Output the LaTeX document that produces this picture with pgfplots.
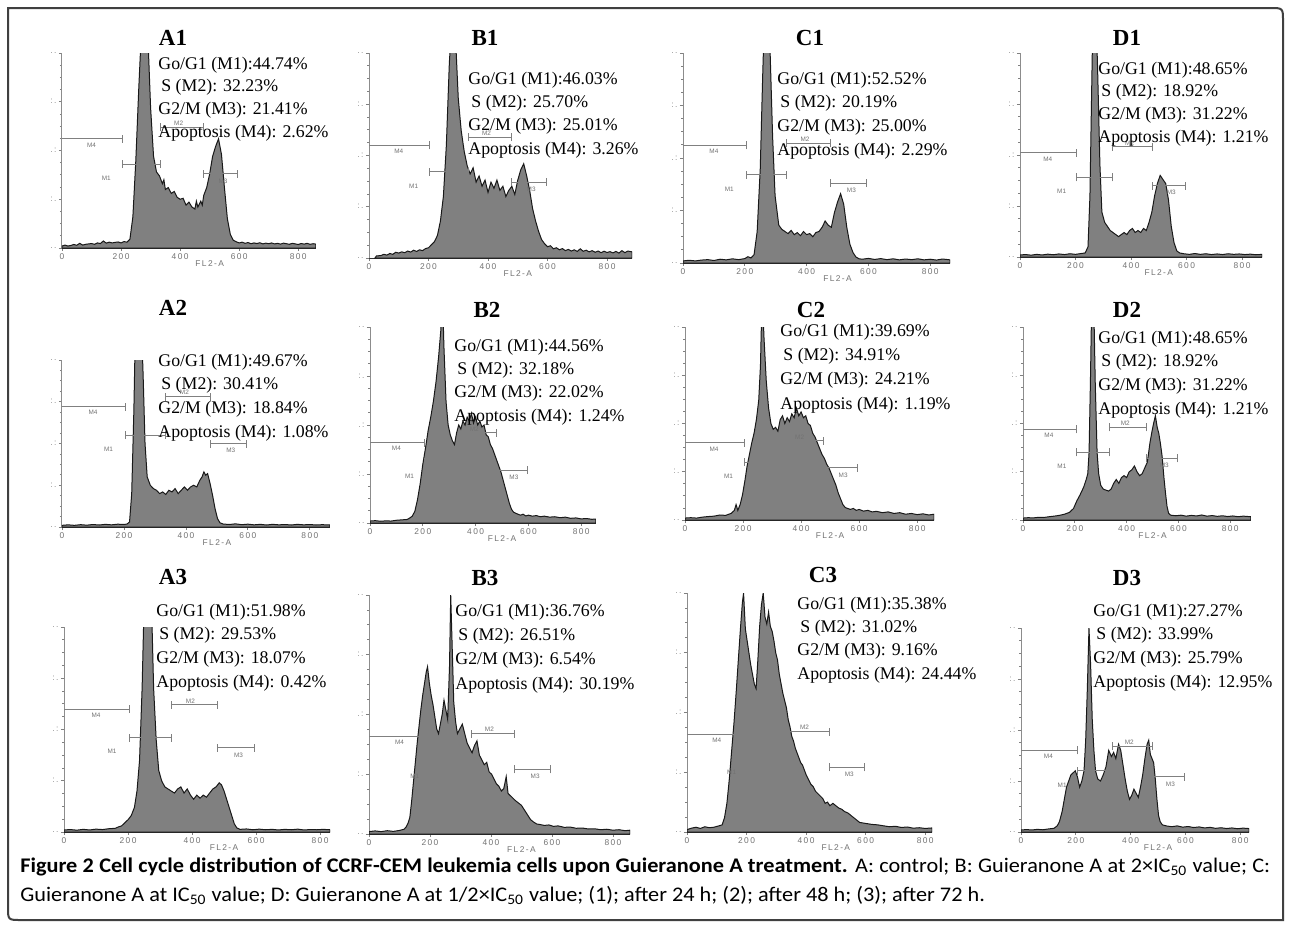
\documentclass[border=0pt]{standalone}
\usepackage{fontspec}
\setmainfont{Liberation Serif}
\setsansfont{Liberation Sans}
\newfontfamily\capfont{Carlito}
\usepackage{graphicx}
\usepackage{pgfplots}
\pgfplotsset{compat=1.18}

\pgfplotsset{
  hist/.style={scale only axis, anchor=south west, xmin=0, ymin=0, ymax=100,
    clip mode=individual,
    axis x line*=bottom, axis y line*=left,
    x axis line style={black!80, line width=0.5pt, -},
    y axis line style={black!45, line width=0.5pt, -},
    xtick={0,200,400,600,800},
    xticklabels={0,2\,0\,0,4\,0\,0,6\,0\,0,8\,0\,0},
    xticklabel style={font=\fontsize{4.2}{5}\selectfont\sffamily, text=black!55, inner sep=1pt},
    ytick={0,25,50,75,100},
    yticklabels={.\,.,:\,.,.\,:,:\,.,.\,.},
    yticklabel style={font=\fontsize{4.2}{5}\selectfont\sffamily, text=black!45, inner sep=1pt},
    minor y tick num=3,
    tick align=outside, major tick length=1.6pt, minor tick length=1pt,
    every tick/.style={black!50, line width=0.4pt}},
  histf/.style={fill=black!50, draw=black!90, line width=0.5pt},
}
\tikzset{
  mk/.style={draw=black!50, line width=0.5pt},
  mkl/.style={font=\fontsize{3.2}{3.5}\selectfont\sffamily, text=black!55, inner sep=0pt},
  fl/.style={font=\fontsize{4.2}{5}\selectfont\sffamily, text=black!55, inner sep=0pt, yshift=-8pt},
  st/.style={anchor=west, inner sep=0pt, font=\fontsize{8.9}{10}\selectfont},
  ttl/.style={inner sep=0pt, font=\bfseries\fontsize{11.5}{12}\selectfont},
  capn/.style={anchor=west, inner sep=0pt},
}
\newcommand\capline[1]{\scalebox{1.07}[1]{\capfont\fontsize{10.4}{12}\selectfont #1}}

% M1..M4 marker bars, heights in percent of the axis
\newcommand\mkbar[3]{\draw[mk] (#1,#3) ++(0,-2pt) -- ++(0,4pt) ++(0,-2pt) -- (#2,#3) ++(0,-2pt) -- ++(0,4pt);}
\newcommand\mkset[4]{%
  \draw[mk] (0,#1) -- (205,#1) ++(0,-2pt) -- ++(0,4pt);
  \mkbar{205}{335}{#2}
  \mkbar{335}{478}{#3}
  \mkbar{478}{595}{#4}
  \node[mkl] at (100,#1) [yshift=-3pt] {M4};
  \node[mkl] at (150,#2) [yshift=-7pt] {M1};
  \node[mkl] at (395,#3) [yshift=2pt] {M2};
  \node[mkl] at (545,#4) [yshift=-3.5pt] {M3};
}
% xl yb xr yt (pixels), xmax, data, marker heights
\newcommand\panel[7]{%
  \pgfmathsetmacro\pw{(#3-#1)*0.5}\pgfmathsetmacro\ph{(#2-#4)*0.5}%
  \begin{axis}[hist, at={(#1*0.5pt,-#2*0.5pt)}, width=\pw pt, height=\ph pt, xmax=#5]
  \addplot[histf] coordinates {#6} \closedcycle;
  \mkset#7
  \node[fl] at (500,0) {F\,L\,2\,-\,A};
  \end{axis}}
\newcommand\stats[7]{%
  \node[st] at (#1,#2) {Go/G1 (M1):#4\%};
  \node[st] at (#1+3,#2+#3) {S (M2): #5\%};
  \node[st] at (#1,#2+2*#3) {G2/M (M3): #6\%};
  \node[st] at (#1,#2+3*#3) {Apoptosis (M4): #7\%};
}

\begin{document}
\begin{tikzpicture}
\path[use as bounding box, fill=white] (0,0) rectangle (645pt,-464pt);

% ---- row 1
\panel{62}{248}{316}{53}{860}{(0,1)(10,1.5)(20,1)(30,1.3)(40,1.8)(50,1.4)(60,2.4)(70,1.5)(80,1.9)(90,2.1)(100,2.3)(110,1.9)(120,2.6)(130,2.3)(140,3.6)(150,2.5)(160,3)(170,2.6)(180,2.9)(190,3.1)(200,2.6)(210,3.3)(220,3)(230,4.5)(240,16)(250,45)(260,82)(270,115)(280,125)(290,112)(300,72)(310,47)(320,39)(330,37)(340,33)(345,35)(350,30)(360,31)(370,28)(380,29)(390,26)(400,25)(410,25.5)(420,22)(430,23.5)(440,21)(450,20)(455,24)(460,21)(470,24)(475,22)(480,27)(490,31)(500,38)(510,47)(520,52)(530,56)(540,48)(550,31)(560,15)(570,7)(580,4)(590,3.2)(600,2.6)(610,3)(620,2.4)(630,2.8)(640,2.2)(650,2.6)(660,2.3)(670,2.7)(680,2.1)(690,2.5)(700,2.2)(710,2.6)(720,2.1)(730,2.4)(740,2)(750,2.5)(760,2.2)(770,1.9)(780,2.4)(790,2.1)(800,1.8)(810,2.3)(820,2)(830,2.4)(840,1.9)(850,2.2)(860,2)}{{56}{43}{62}{38}}

\panel{369}{258}{632}{53}{884}{(20,0)(25,1)(40,1.2)(50,1.8)(60,1.4)(70,2.2)(80,1.8)(90,2.8)(100,2.4)(110,3)(120,2.6)(130,3.4)(140,2.9)(150,3.8)(160,3.2)(170,4)(180,3.6)(190,4.6)(200,5)(210,6.5)(220,8)(230,11)(240,18)(250,30)(260,55)(270,95)(280,120)(290,110)(300,78)(310,62)(320,52)(330,45)(340,41)(350,44)(360,37)(370,40)(380,35)(390,38)(400,32)(410,37)(420,34)(430,38)(440,33)(450,35)(460,30)(470,33)(480,35)(490,31)(500,38)(510,43)(520,46)(530,40)(540,33)(550,24)(560,18)(570,13)(580,9)(590,7)(600,5.5)(610,6)(620,4.5)(630,5)(640,4)(650,4.6)(660,3.6)(670,4.2)(680,3.4)(690,4)(700,3.2)(710,4.5)(720,3.3)(730,3.8)(740,3)(750,3.6)(760,2.8)(770,3.4)(780,2.6)(790,3.3)(800,2.7)(810,3.1)(820,2.5)(830,3.2)(840,2.4)(850,3.6)(860,2.6)(870,3.4)(884,3)}{{55}{42}{59}{37}}

\panel{683}{263}{950}{53}{864}{(0,1)(20,1.3)(40,1)(60,1.4)(80,1.6)(100,1.2)(120,1.8)(140,1.5)(160,2)(180,1.6)(200,2.1)(210,3)(220,2.4)(230,4)(240,15)(250,45)(258,90)(265,125)(275,130)(282,100)(290,60)(298,32)(310,18)(320,16)(330,15)(340,14)(350,15.5)(360,13.5)(370,14.5)(380,13)(390,15)(400,13.5)(410,14)(420,12.5)(430,14.5)(440,15)(450,17)(460,20)(470,18)(480,17)(490,24)(500,29)(510,33)(520,28)(530,17)(540,9)(550,5)(560,2.8)(570,2)(580,1.8)(600,2.2)(620,1.7)(640,2.1)(660,1.6)(680,2)(700,1.5)(720,1.9)(740,1.6)(760,2)(780,1.5)(800,1.8)(820,1.4)(840,1.9)(864,1.5)}{{56}{42}{57}{38}}

\panel{1020}{257}{1262}{53}{872}{(0,1)(20,1.2)(40,0.9)(60,1.3)(80,1)(100,1.4)(120,1.1)(140,1.5)(160,1.2)(180,1.6)(200,1.3)(220,1.7)(235,2)(245,5)(252,30)(258,80)(264,130)(272,130)(280,90)(288,45)(295,22)(305,17)(315,15)(325,13)(335,12)(345,11)(355,10)(365,11)(375,12)(385,11)(395,13)(405,14)(415,12)(425,13)(435,12)(445,14)(455,13)(465,17)(475,22)(485,30)(495,36)(505,40)(515,38)(525,36)(535,28)(545,15)(555,7)(565,3)(575,2)(590,1.6)(610,1.3)(630,1.7)(650,1.3)(670,1.6)(690,1.2)(710,1.5)(730,1.2)(750,1.6)(770,1.3)(790,1.5)(810,1.2)(830,1.4)(850,1.1)(872,1.3)}{{51}{39}{54}{35}}

% ---- row 2
\panel{62}{527}{330}{360}{865}{(0,1)(20,1.3)(40,1)(60,1.4)(80,1.1)(100,1.5)(120,1.2)(140,1.6)(160,1.3)(180,1.7)(200,1.5)(210,1.8)(218,3)(225,20)(232,70)(238,130)(255,130)(262,90)(268,50)(275,30)(285,25)(295,23)(305,22)(315,20)(325,21)(335,19.5)(345,22)(355,21)(365,23)(375,20)(385,22)(395,24)(405,22)(415,24)(425,25)(435,24)(445,28)(452,30)(458,33)(464,31)(470,32)(478,26)(486,19)(494,11)(502,5)(510,2.5)(520,1.8)(540,1.5)(560,1.9)(580,1.4)(600,1.7)(620,1.3)(640,1.6)(660,1.2)(680,1.6)(700,1.3)(720,1.5)(740,1.2)(760,1.6)(780,1.3)(800,1.5)(820,1.2)(840,1.4)(865,1.2)}{{72}{55}{78}{50}}

\panel{370}{523}{596}{327}{856}{(0,1)(20,1.2)(40,0.9)(60,1.1)(80,1)(100,1.4)(120,1.6)(140,1.8)(150,2.5)(160,3.5)(170,6)(180,12)(190,20)(200,30)(210,38)(220,47)(230,54)(240,62)(250,72)(260,85)(268,98)(274,120)(280,90)(288,62)(296,50)(304,45)(312,42)(320,40)(328,46)(336,50)(344,48)(352,52)(360,50)(368,54)(376,52)(384,56)(392,51)(400,54)(408,50)(416,52)(424,49)(432,50)(440,45)(448,44)(456,40)(464,38)(472,35)(480,32)(488,29)(496,26)(504,22)(512,18)(520,14)(528,10)(536,7)(544,5.5)(552,5)(560,4.5)(570,4)(580,4.5)(590,3.6)(600,4)(615,3.5)(630,3.8)(645,3.2)(660,3.5)(680,3)(700,3.2)(720,2.7)(740,3)(760,2.4)(780,2.6)(800,2.1)(820,2.3)(840,1.9)(856,2)}{{41}{31}{46}{27}}

\panel{685}{520}{934}{327}{858}{(0,1)(20,1.2)(40,1)(60,1.5)(80,1.8)(100,2)(120,2.6)(140,2.4)(160,3.5)(170,5)(176,8)(182,5)(190,8)(198,13)(206,20)(214,28)(222,34)(230,40)(238,45)(246,52)(254,62)(260,80)(266,120)(272,95)(280,72)(288,58)(296,50)(304,47)(312,48)(320,46)(328,52)(336,54)(344,50)(352,53)(360,51)(368,55)(376,53)(384,58)(392,54)(400,56)(408,53)(416,54)(424,50)(432,49)(440,45)(448,43)(456,40)(464,37)(472,34)(480,32)(488,29)(496,27)(504,24)(512,21)(520,18)(528,14)(536,11)(544,8)(552,6.5)(560,6)(570,5.5)(580,6)(590,5)(600,5.5)(615,4.6)(630,5)(645,4.2)(660,4.5)(680,3.8)(700,4.2)(720,3.4)(740,3.8)(760,3)(780,3.4)(800,2.8)(820,3.2)(840,2.6)(858,3)}{{40}{30}{41}{27}}

\panel{1023}{520}{1251}{327}{880}{(0,1)(20,1.2)(40,1.1)(60,1.4)(80,1.3)(100,1.7)(120,2)(140,2.4)(160,3)(180,4)(195,6)(208,10)(220,13)(234,17)(244,21)(250,24)(255,35)(260,70)(266,120)(272,120)(279,70)(286,35)(292,24)(300,18)(310,16)(320,15.5)(330,15)(340,16)(350,19)(360,21)(370,19)(380,22)(390,23)(400,22)(410,25)(420,26)(430,28)(440,25)(450,23)(460,24)(470,27)(480,30)(490,40)(498,46)(504,50)(511,54)(518,48)(524,45)(530,40)(537,33)(544,22)(550,14)(556,7)(562,3.5)(570,2.5)(590,2.2)(610,2.5)(630,2)(650,2.4)(670,2.1)(690,2.6)(710,2)(730,2.3)(750,1.9)(770,2.2)(790,1.8)(810,2.1)(830,1.7)(850,2)(880,1.7)}{{47}{35}{48}{32}}

% ---- row 3
\panel{64}{832}{330}{627}{831}{(0,1)(20,1.2)(40,0.9)(60,1.3)(80,1)(100,1.4)(120,1.2)(140,1.6)(160,1.8)(170,2.5)(180,3)(190,4.5)(200,6)(210,8)(220,12)(228,20)(236,35)(244,70)(250,110)(260,130)(272,120)(280,70)(288,45)(296,30)(305,25)(315,22)(325,21)(335,20)(345,19)(355,21)(365,22)(375,19)(385,21)(395,18)(405,16)(415,18)(425,16.5)(435,18)(445,17)(455,19)(465,21)(475,22)(485,24)(492,23)(500,20)(508,16)(516,12)(524,8)(532,4)(540,2)(550,1.3)(570,1.5)(590,1.1)(610,1.4)(630,1.1)(650,1.3)(670,1)(690,1.3)(710,1.1)(730,1.4)(750,1)(770,1.2)(790,1.1)(810,1.3)(831,1.1)}{{60}{46}{62}{41}}

\panel{369}{834}{630}{595}{856}{(0,1)(20,1.3)(40,1)(60,1.4)(80,1.1)(100,1.5)(115,2)(122,3)(128,4.5)(134,7)(140,14)(146,22)(152,30)(158,38)(164,45)(170,52)(176,58)(182,63)(188,68)(192,70)(198,63)(204,58)(210,54)(216,49)(222,44)(228,42)(234,46)(240,50)(246,56)(252,52)(258,48)(264,70)(268,100)(272,82)(278,55)(284,47)(290,42)(298,44)(306,46)(314,42)(322,38)(330,36)(338,34)(346,37)(354,39)(362,33)(370,31)(378,29)(386,30)(394,26)(402,25)(410,23)(418,21)(426,20)(434,18)(442,19)(450,24)(456,17)(464,16)(472,15)(480,14)(490,13)(500,12)(510,10)(520,8)(530,6)(540,5)(550,4.2)(560,4)(575,3.6)(590,3.8)(605,3.2)(620,3.4)(640,2.8)(660,2.9)(680,2.4)(700,2.5)(720,2.1)(740,2.2)(760,1.8)(780,2)(800,1.6)(820,1.8)(840,1.4)(856,1.6)}{{41}{30}{42}{27}}

\panel{687}{832}{932}{593}{823}{(0,1)(15,1.6)(30,2)(45,1.5)(60,2.2)(75,1.8)(90,2)(105,2.5)(118,3)(126,6)(134,12)(142,22)(150,34)(158,46)(166,60)(174,75)(180,86)(186,96)(190,100)(196,85)(202,80)(208,75)(214,70)(220,66)(226,62)(232,60)(238,72)(244,86)(250,95)(256,100)(262,90)(268,87)(274,92)(280,86)(286,84)(292,80)(298,75)(304,72)(310,66)(316,62)(322,58)(328,55)(334,52)(340,47)(346,44)(352,40)(358,38)(364,35)(370,33)(376,31)(382,29)(388,28)(394,26)(400,24)(408,22)(416,20)(424,19)(432,17)(440,16)(448,15)(456,14)(464,12)(472,12.5)(480,11)(490,12)(500,11)(510,10)(520,9.5)(530,8.5)(540,8)(550,7)(560,6)(570,5)(580,4)(600,3.6)(620,3.2)(640,3)(660,2.6)(680,2.2)(700,2.4)(720,1.9)(740,2.1)(760,1.6)(780,1.8)(800,1.5)(823,1.7)}{{41}{31}{42}{27}}

\panel{1021}{832}{1249}{628}{832}{(0,1)(20,1.2)(40,1)(60,1.3)(80,1.1)(100,1.5)(120,1.8)(132,3)(140,5)(150,10)(158,16)(166,22)(174,25)(182,28)(190,29)(198,30)(206,27)(214,22)(222,25)(230,30)(236,45)(242,70)(248,100)(254,82)(260,55)(266,40)(272,30)(280,26)(290,25)(300,28)(310,32)(320,40)(330,37)(338,39)(346,36)(356,43)(364,40)(372,33)(380,26)(388,20)(396,16)(404,18)(412,21)(420,19)(428,17)(436,22)(444,28)(452,36)(460,43)(466,45)(472,38)(478,36)(484,34)(490,26)(496,16)(502,8)(508,5)(516,3.5)(530,3)(550,2.6)(570,3)(590,2.4)(610,2.7)(630,2.2)(650,2.5)(670,2)(690,2.3)(710,1.8)(730,2.1)(750,1.7)(770,2)(790,1.6)(810,1.9)(832,1.7)}{{40}{30}{42}{27}}

\begin{scope}[x=0.5pt,y=-0.5pt]
% frame
\draw[black!75, line width=1pt] (8,8) -- (1270,8) .. controls (1283,8) .. (1283,21) -- (1283,920) -- (21,920) .. controls (8,920) .. (8,907) -- cycle;
% titles
\node[ttl] at (173,38) {A1}; \node[ttl] at (485,38) {B1};
\node[ttl] at (810,38) {C1}; \node[ttl] at (1127,38) {D1};
\node[ttl] at (173,308) {A2}; \node[ttl] at (487,310) {B2};
\node[ttl] at (811,310) {C2}; \node[ttl] at (1127,310) {D2};
\node[ttl] at (173,577) {A3}; \node[ttl] at (485,578) {B3};
\node[ttl] at (823,575) {C3}; \node[ttl] at (1127,578) {D3};
% percentages
\stats{158}{65}{22.7}{44.74}{32.23}{21.41}{2.62}
\stats{468}{80}{23.3}{46.03}{25.70}{25.01}{3.26}
\stats{777}{80}{23.7}{52.52}{20.19}{25.00}{2.29}
\stats{1098}{70}{22.7}{48.65}{18.92}{31.22}{1.21}
\stats{158}{362}{23.7}{49.67}{30.41}{18.84}{1.08}
\stats{454}{347}{23.3}{44.56}{32.18}{22.02}{1.24}
\stats{780}{332}{24.3}{39.69}{34.91}{24.21}{1.19}
\stats{1098}{339}{23.7}{48.65}{18.92}{31.22}{1.21}
\stats{156}{612}{23.7}{51.98}{29.53}{18.07}{0.42}
\stats{455}{612}{24.3}{36.76}{26.51}{6.54}{30.19}
\stats{797}{605}{23.3}{35.38}{31.02}{9.16}{24.44}
\stats{1093}{612}{23.7}{27.27}{33.99}{25.79}{12.95}
% caption
\node[capn] at (20,867) {\capline{\makebox[584pt][s]{\textbf{Figure 2 Cell cycle distribution of CCRF-CEM leukemia cells upon Guieranone A treatment.} A: control; B: Guieranone A at 2×IC\textsubscript{50} value; C:}}};
\node[capn] at (20,895) {\capline{Guieranone A at IC\textsubscript{50} value; D: Guieranone A at 1/2×IC\textsubscript{50} value; (1); after 24 h; (2); after 48 h; (3); after 72 h.}};
\end{scope}
\end{tikzpicture}
\end{document}
